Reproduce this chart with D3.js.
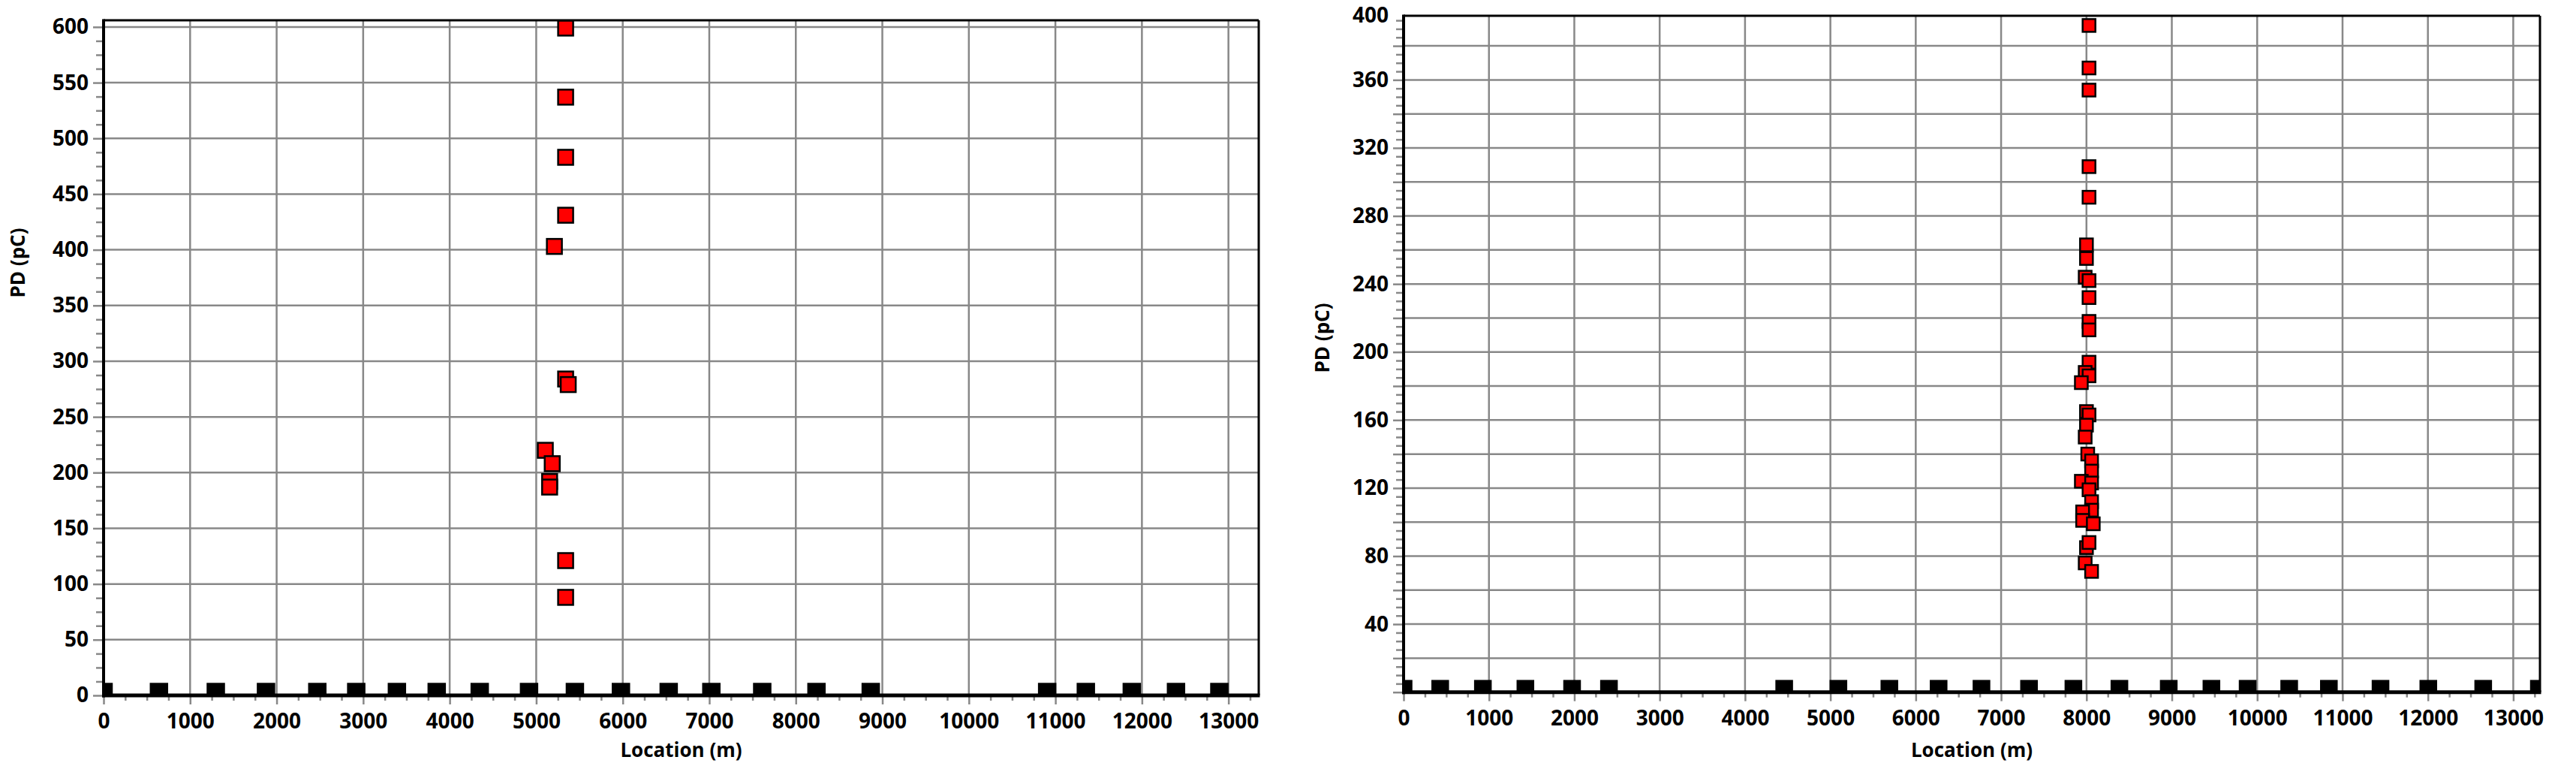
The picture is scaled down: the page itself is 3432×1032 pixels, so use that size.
<!DOCTYPE html>
<html>
<head>
<meta charset="utf-8">
<script src="https://cdn.jsdelivr.net/npm/d3@7/dist/d3.min.js"></script>
<style>
  html, body { margin: 0; padding: 0; background: #fff; }
  svg { display: block; font-family: "Open Sans", Lato, sans-serif; font-weight: 700; }
</style>
</head>
<body>
<svg id="chart" width="3432" height="1032"></svg>
<script>
// ---- data ----
const xTicks = [0, 1000, 2000, 3000, 4000, 5000, 6000, 7000, 8000, 9000, 10000, 11000, 12000, 13000];
const leftYTicks = [0, 50, 100, 150, 200, 250, 300, 350, 400, 450, 500, 550, 600];
const rightYTicks = [40, 80, 120, 160, 200, 240, 280, 320, 360, 400];

// left plot: discharge events (red)
const leftLocation = [5340, 5340, 5340, 5340, 5210, 5340, 5370, 5105, 5185, 5155, 5155, 5340, 5340];
const leftPD = [599, 537, 483, 431, 403, 284, 279, 220, 208, 192, 187, 121, 88];
// left plot: near-zero readings (black)
const leftBaseLocation = [0, 640, 1297, 1877, 2470, 2920, 3390, 3850, 4347, 4917, 5447, 5979, 6531, 7024, 7612, 8239, 8866, 10905, 11352, 11883, 12394, 12895];
const leftBasePD = [3, 3, 3, 3, 3, 3, 3, 3, 3, 3, 3, 3, 3, 3, 3, 3, 3, 3, 3, 3, 3, 3];

// right plot: discharge events (red)
const rightLocation = [8030, 8030, 8030, 8030, 8030, 8000, 8000, 7985, 8030, 8030, 8030, 8030, 8030, 7985, 8030, 7940, 8000, 8030, 8000, 7985, 8015, 8060, 8060, 7940, 8060, 8030, 8060, 8060, 7955, 7955, 8080, 8000, 8030, 7985, 8060];
const rightPD = [392, 367, 354, 309, 291, 263, 255, 244, 242, 232, 218, 213, 194, 188, 186, 182, 165, 163, 157, 150, 140, 136, 130, 124, 123, 119, 112, 107, 106, 101, 99, 85, 88, 76, 71];
// right plot: near-zero readings (black)
const rightBaseLocation = [0, 429, 929, 1427, 1974, 2406, 4459, 5094, 5691, 6268, 6770, 7327, 7847, 8386, 8964, 9464, 9888, 10375, 10840, 11445, 12005, 12648, 13300];
const rightBasePD = [2, 2, 2, 2, 2, 2, 2, 2, 2, 2, 2, 2, 2, 2, 2, 2, 2, 2, 2, 2, 2, 2, 2];

const GRID = "#888888";
const FONT = "'Open Sans', Lato, sans-serif";

const svg = d3.select("#chart");

const panels = [
  {
    id: "left",
    box: { x0: 138, x1: 1677, y0: 27, y1: 926 },
    xMax: 13350, yMax: 606,
    yTicks: leftYTicks, yGridStep: 50, yMinorStep: 12.5,
    events: { loc: leftLocation, pd: leftPD, size: 20 },
    base: { loc: leftBaseLocation, pd: leftBasePD, size: 22 },
    yTitle: { x: 24, y: 350 }
  },
  {
    id: "right",
    box: { x0: 1870, x1: 3384, y0: 21, y1: 921.7 },
    xMax: 13313, yMax: 397.7,
    yTicks: rightYTicks, yGridStep: 20, yMinorStep: 5,
    events: { loc: rightLocation, pd: rightPD, size: 17 },
    base: { loc: rightBaseLocation, pd: rightBasePD, size: 21 },
    yTitle: { x: 1762, y: 450 }
  }
];

panels.forEach(drawPanel);

function drawPanel(p) {
  const { x0, x1, y0, y1 } = p.box;
  const x = d3.scaleLinear().domain([0, p.xMax]).range([x0, x1]);
  const y = d3.scaleLinear().domain([0, p.yMax]).range([y1, y0]);

  const g = svg.append("g").attr("class", `panel-${p.id}`);

  const clipId = `clip-${p.id}`;
  g.append("clipPath").attr("id", clipId)
    .append("rect")
    .attr("x", x0).attr("y", y0)
    .attr("width", x1 - x0).attr("height", y1 - y0);

  // grid
  const hGrid = d3.range(p.yGridStep, p.yMax, p.yGridStep);
  g.append("g").selectAll("line")
    .data(hGrid)
    .join("line")
    .attr("x1", x0).attr("x2", x1)
    .attr("y1", d => y(d)).attr("y2", d => y(d))
    .attr("stroke", GRID).attr("stroke-width", 2.5);

  g.append("g").selectAll("line")
    .data(xTicks.filter(d => d > 0))
    .join("line")
    .attr("x1", d => x(d)).attr("x2", d => x(d))
    .attr("y1", y0).attr("y2", y1)
    .attr("stroke", GRID).attr("stroke-width", 2.5);

  // markers
  const marks = g.append("g").attr("clip-path", `url(#${clipId})`);

  const square = (sel, s, fill) => sel
    .attr("x", d => x(d[0]) - s / 2)
    .attr("y", d => y(d[1]) - s / 2)
    .attr("width", s).attr("height", s)
    .attr("fill", fill)
    .attr("stroke", "#000")
    .attr("stroke-width", 2.5);

  marks.append("g").selectAll("rect")
    .data(p.base.loc.map((d, i) => [d, p.base.pd[i]]))
    .join("rect")
    .call(square, p.base.size, "#000");

  marks.append("g").selectAll("rect")
    .data(p.events.loc.map((d, i) => [d, p.events.pd[i]]))
    .join("rect")
    .call(square, p.events.size, "#ff0000");

  // x axis: minor ticks, then major ticks with labels
  const xMinor = d3.range(0, p.xMax, 250).filter(d => d % 1000 !== 0);
  g.append("g")
    .attr("transform", `translate(0,${y1})`)
    .call(d3.axisBottom(x).tickValues(xMinor).tickSize(7).tickFormat(""))
    .call(styleAxis);

  g.append("g")
    .attr("transform", `translate(0,${y1})`)
    .call(d3.axisBottom(x).tickValues(xTicks).tickSize(12).tickPadding(12).tickFormat(d3.format("d")))
    .call(styleAxis);

  // y axis
  const yMinor = d3.range(0, p.yMax, p.yMinorStep).filter(d => d % p.yGridStep !== 0);
  g.append("g")
    .attr("transform", `translate(${x0},0)`)
    .call(d3.axisLeft(y).tickValues(yMinor).tickSize(10).tickFormat(""))
    .call(styleAxis);

  const yMajor = Array.from(new Set(d3.range(0, p.yMax, p.yGridStep).concat(p.yTicks))).sort((a, b) => a - b);
  const labelSet = new Set(p.yTicks);
  const yAxis = g.append("g")
    .attr("transform", `translate(${x0},0)`)
    .call(d3.axisLeft(y).tickValues(yMajor).tickSize(14).tickPadding(6)
      .tickFormat(d => labelSet.has(d) ? d : ""))
    .call(styleAxis);
  // a label just above the top edge keeps its text but loses its tick mark
  const over = yAxis.selectAll(".tick").filter(d => d > p.yMax);
  over.select("line").remove();
  over.select("text").attr("dy", "0.5em");

  // frame
  const frame = g.append("g").attr("stroke", "#000").attr("fill", "none");
  frame.append("line").attr("x1", x0).attr("x2", x1).attr("y1", y0).attr("y2", y0).attr("stroke-width", 3);
  frame.append("line").attr("x1", x1).attr("x2", x1).attr("y1", y0).attr("y2", y1).attr("stroke-width", 3);
  frame.append("line").attr("x1", x0).attr("x2", x0).attr("y1", y0 - 1.5).attr("y2", y1 + 2.5).attr("stroke-width", 4);
  frame.append("line").attr("x1", x0 - 2).attr("x2", x1 + 1.5).attr("y1", y1).attr("y2", y1).attr("stroke-width", 5);

  // titles
  g.append("text")
    .attr("x", (x0 + x1) / 2).attr("y", 1008)
    .attr("text-anchor", "middle")
    .attr("font-size", 26)
    .text("Location (m)");

  g.append("text")
    .attr("transform", `translate(${p.yTitle.x},${p.yTitle.y}) rotate(-90)`)
    .attr("text-anchor", "middle")
    .attr("dy", "0.35em")
    .attr("font-size", 26)
    .text("PD (pC)");
}

function styleAxis(sel) {
  sel.select(".domain").remove();
  sel.selectAll(".tick line").attr("stroke", GRID).attr("stroke-width", 2.5);
  sel.selectAll(".tick text")
    .attr("fill", "#000")
    .attr("font-size", 28)
    .attr("font-family", FONT)
    .attr("font-weight", 700);
}
</script>
</body>
</html>
